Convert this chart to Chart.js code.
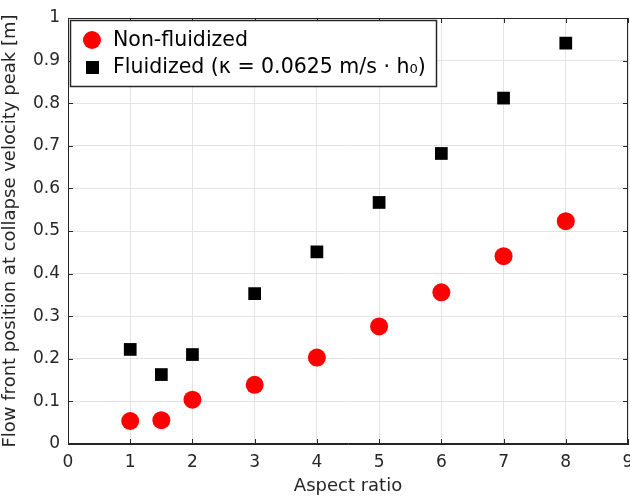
<!DOCTYPE html>
<html>
<head>
<meta charset="utf-8">
<script src="https://cdn.jsdelivr.net/npm/chart.js@4/dist/chart.umd.min.js"></script>
<style>
  html, body { margin: 0; padding: 0; background: #fff; }
  #wrap { width: 630px; height: 497px; }
</style>
</head>
<body>
<div id="wrap"><canvas id="chart" width="630" height="497"></canvas></div>
<script>
// aspect ratios and flow front positions
const aspectRatios = [1, 1.5, 2, 3, 4, 5, 6, 7, 8];
const nonFluidized = [0.054, 0.056, 0.104, 0.139, 0.203, 0.276, 0.356, 0.441, 0.523];
const fluidized = [0.222, 0.163, 0.210, 0.353, 0.451, 0.567, 0.682, 0.812, 0.941];
const xTicks = [0, 1, 2, 3, 4, 5, 6, 7, 8, 9];
const yTicks = [0, 0.1, 0.2, 0.3, 0.4, 0.5, 0.6, 0.7, 0.8, 0.9, 1];
const seriesNames = ['Non-fluidized', 'Fluidized (\u03ba = 0.0625 m/s \u00b7 h\u2080)'];

const textColor = '#262626';
const font = 'DejaVu Sans';

function toPoints(xs, ys) {
    return xs.map((x, i) => ({ x: x, y: ys[i] }));
}

// box around the axes, inward tick marks and the legend, matlab style
const framePlugin = {
    id: 'frame',
    afterDraw(chart) {
        const ctx = chart.ctx;
        const a = chart.chartArea;
        const xs = chart.scales.x, ys = chart.scales.y;
        ctx.save();
        ctx.strokeStyle = textColor;
        ctx.lineWidth = 1;
        ctx.strokeRect(a.left + 0.5, a.top + 0.5, a.right - a.left - 1, a.bottom - a.top - 1);
        ctx.beginPath();
        xTicks.forEach(t => {
            let px = Math.round(xs.getPixelForValue(t)) + 0.5;
            ctx.moveTo(px, a.bottom); ctx.lineTo(px, a.bottom - 5);
            ctx.moveTo(px, a.top); ctx.lineTo(px, a.top + 5);
        });
        yTicks.forEach(t => {
            let py = Math.round(ys.getPixelForValue(t)) + 0.5;
            ctx.moveTo(a.left, py); ctx.lineTo(a.left + 5, py);
            ctx.moveTo(a.right, py); ctx.lineTo(a.right - 5, py);
        });
        ctx.stroke();

        // legend
        let lx = 70, ly = 20, lw = 366, lh = 66;
        ctx.fillStyle = '#fff';
        ctx.fillRect(lx, ly, lw, lh);
        ctx.strokeStyle = '#262626';
        ctx.lineWidth = 1.5;
        ctx.strokeRect(lx + 0.5, ly + 0.5, lw, lh);
        ctx.font = '20.5px "' + font + '"';
        ctx.textBaseline = 'middle';
        ctx.fillStyle = '#ff0000';
        ctx.beginPath();
        ctx.arc(92, 40, 9, 0, Math.PI * 2);
        ctx.fill();
        ctx.fillStyle = '#000';
        ctx.fillRect(86, 61, 13, 13);
        ctx.fillStyle = '#000';
        ctx.fillText(seriesNames[0], 113, 41);
        ctx.fillText(seriesNames[1], 113, 68);
        ctx.restore();
    }
};

new Chart(document.getElementById('chart'), {
    type: 'scatter',
    data: {
        datasets: [
            {
                label: seriesNames[0],
                data: toPoints(aspectRatios, nonFluidized),
                pointStyle: 'circle',
                pointRadius: 9,
                pointHoverRadius: 9,
                backgroundColor: '#ff0000',
                borderColor: '#ff0000',
                borderWidth: 0
            },
            {
                label: seriesNames[1],
                data: toPoints(aspectRatios, fluidized),
                pointStyle: 'rect',
                pointRadius: 9,
                pointHoverRadius: 9,
                backgroundColor: '#000000',
                borderColor: '#000000',
                borderWidth: 0
            }
        ]
    },
    options: {
        responsive: false,
        animation: false,
        layout: { autoPadding: false, padding: { top: 18, right: 2, left: 0, bottom: 0 } },
        plugins: {
            legend: { display: false },
            tooltip: { enabled: false }
        },
        scales: {
            x: {
                type: 'linear',
                min: 0,
                max: 9,
                afterBuildTicks: s => { s.ticks = xTicks.map(v => ({ value: v })); },
                afterFit: s => { s.height = 53; s.paddingLeft = 0; s.paddingRight = 0; },
                grid: { color: '#e3e3e3', drawTicks: false },
                border: { color: textColor },
                ticks: { color: textColor, font: { family: font, size: 17 }, padding: 8 },
                title: {
                    display: true,
                    text: 'Aspect ratio',
                    color: textColor,
                    font: { family: font, size: 18 },
                    padding: { top: 0, bottom: 0 }
                }
            },
            y: {
                type: 'linear',
                min: 0,
                max: 1,
                afterBuildTicks: s => { s.ticks = yTicks.map(v => ({ value: v })); },
                afterFit: s => { s.width = 68; s.paddingTop = 0; s.paddingBottom = 0; },
                grid: { color: '#e3e3e3', drawTicks: false },
                border: { color: textColor },
                ticks: {
                    color: textColor,
                    font: { family: font, size: 17 },
                    padding: 8,
                    callback: v => String(Math.round(v * 10) / 10)
                },
                title: {
                    display: true,
                    text: 'Flow front position at collapse velocity peak [m]',
                    color: textColor,
                    font: { family: font, size: 18 },
                    padding: { top: 0, bottom: 0 }
                }
            }
        }
    },
    plugins: [framePlugin]
});
</script>
</body>
</html>
